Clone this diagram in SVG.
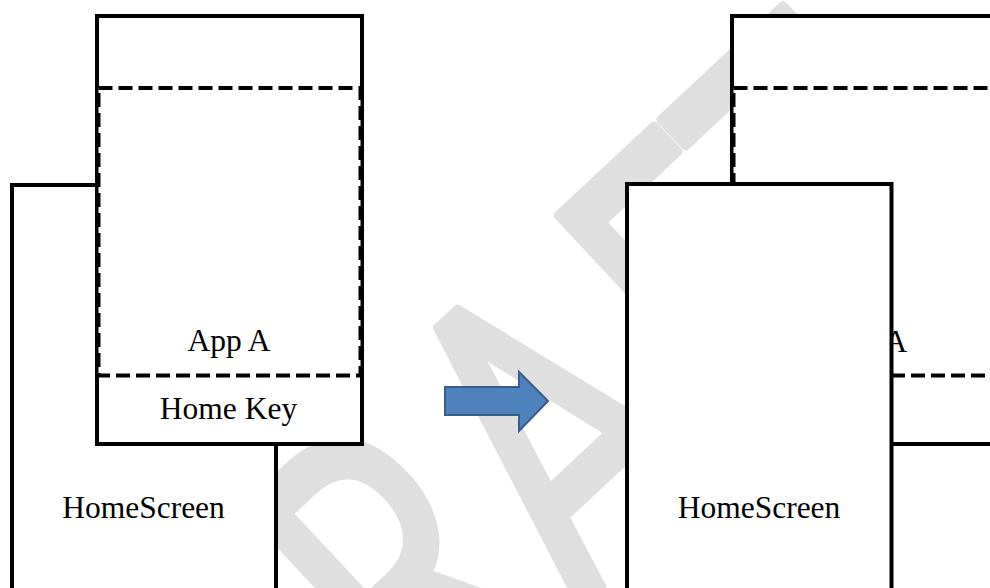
<svg xmlns="http://www.w3.org/2000/svg" width="990" height="588" viewBox="0 0 990 588">
  <style>
    .box { fill: #ffffff; stroke: #000000; stroke-width: 4; }
    .dash { fill: #ffffff; stroke: #000000; stroke-width: 4; stroke-dasharray: 14 6; }
    .lbl { font-family: "Liberation Serif", "Times New Roman", serif; font-size: 31.5px; fill: #000000; }
    .wm { font-family: Lato, "Open Sans", sans-serif; font-size: 430px; fill: #dfdfdf; stroke: #dfdfdf; stroke-width: 10; stroke-linejoin: round; }
    .arrow { fill: #4f81bd; stroke: #385d8a; stroke-width: 2; }
  </style>
  <rect x="0" y="0" width="990" height="588" fill="#ffffff"/>
  <g id="watermark">
    <text class="wm" transform="translate(577.7 619.2) rotate(-43) scale(0.7 1)" x="-433 -144 157 454 693" y="0" text-anchor="middle">DRAFT</text>
  </g>
  <g id="homescreen-left">
    <rect class="box" x="12" y="185" width="264" height="420"/>
    <text class="lbl" x="143.5" y="518" text-anchor="middle">HomeScreen</text>
  </g>
  <g id="app-left">
    <rect class="box" x="97" y="16" width="265" height="428"/>
    <rect class="dash" x="98.5" y="88" width="262" height="287.5"/>
    <text class="lbl" x="229" y="351" text-anchor="middle">App A</text>
    <text class="lbl" x="228.5" y="419" text-anchor="middle">Home Key</text>
  </g>
  <g id="app-right">
    <rect class="box" x="732" y="16" width="265" height="428"/>
    <rect class="dash" x="733.5" y="88" width="262" height="287.5"/>
    <text class="lbl" x="884.5" y="352">A</text>
  </g>
  <g id="homescreen-right">
    <rect class="box" x="627" y="184" width="264.5" height="420"/>
    <text class="lbl" x="759" y="518" text-anchor="middle">HomeScreen</text>
  </g>
  <g id="connectors">
    <polygon class="arrow" points="445,387 519,387 519,372 548,401 519,431 519,415 445,415"/>
  </g>
</svg>
